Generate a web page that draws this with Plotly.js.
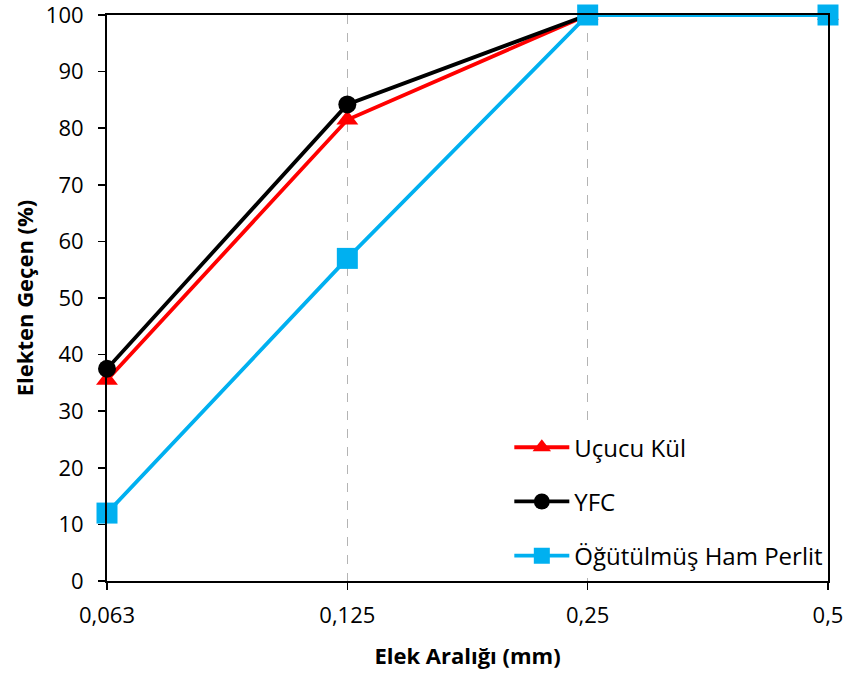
<!DOCTYPE html>
<html>
<head>
<meta charset="utf-8">
<script src="https://cdn.plot.ly/plotly-3.0.1.min.js"></script>
<style>html,body{margin:0;padding:0;background:#fff;}#chart{width:848px;height:676px;}</style>
</head>
<body>
<div id="chart"></div>
<script>
const categories = ["0,063", "0,125", "0,25", "0,5"];
const ucucuKul = [35.5, 81.5, 100, 100];
const yfc = [37.5, 84.2, 100, 100];
const perlit = [12, 57, 100, 100];
const seriesNames = ["Uçucu Kül", "YFC", "Öğütülmüş Ham Perlit"];

const font = "Open Sans, Liberation Sans, sans-serif";

const traces = [
  {x: categories, y: ucucuKul, name: seriesNames[0], type: "scatter", mode: "lines+markers", cliponaxis: false,
   line: {color: "#ff0000", width: 3.8}, marker: {symbol: "triangle-up", size: 19, color: "#ff0000"}, legendgroup: "a"},
  {x: categories, y: yfc, name: seriesNames[1], type: "scatter", mode: "lines+markers", cliponaxis: false,
   line: {color: "#000000", width: 3.8}, marker: {symbol: "circle", size: 18, color: "#000000"}, legendgroup: "b"},
  {x: categories, y: perlit, name: seriesNames[2], type: "scatter", mode: "lines+markers", cliponaxis: false,
   line: {color: "#00b0f0", width: 3.8}, marker: {symbol: "square", size: 21, color: "#00b0f0"}, legendgroup: "c"}
];

const layout = {
  width: 848, height: 676,
  margin: {l: 107, r: 20, t: 15, b: 95},
  paper_bgcolor: "#fff", plot_bgcolor: "#fff",
  font: {family: font, size: 22, color: "#000"},
  showlegend: true,
  legend: {x: 0.558, y: 0.005, xanchor: "left", yanchor: "bottom", bgcolor: "#fff",
           traceorder: "grouped", tracegroupgap: 20, itemwidth: 55,
           font: {family: font, size: 24, color: "#000"}},
  xaxis: {type: "category", range: [0, 3], showline: true, linecolor: "#000", linewidth: 2, mirror: true,
          ticks: "outside", ticklen: 7, tickcolor: "#000", tickwidth: 1.5, ticklabelstandoff: 7,
          showgrid: true, gridcolor: "#b4b4b4", gridwidth: 1.5, griddash: "dash",
          tickfont: {size: 22}, zeroline: false, ticklabeloverflow: "allow",
          title: {text: "<b>Elek Aralığı (mm)</b>", font: {size: 22}, standoff: 20}},
  yaxis: {range: [0, 100], dtick: 10, showline: true, linecolor: "#000", linewidth: 2, mirror: true,
          ticks: "outside", ticklen: 7, tickcolor: "#000", tickwidth: 1.5, ticklabelstandoff: 10,
          showgrid: false, zeroline: false, tickfont: {size: 22}, ticklabeloverflow: "allow",
          title: {text: "<b>Elekten Geçen (%)</b>", font: {size: 22}, standoff: 6}}
};

Plotly.newPlot("chart", traces, layout, {displayModeBar: false, staticPlot: true});
</script>
</body>
</html>
